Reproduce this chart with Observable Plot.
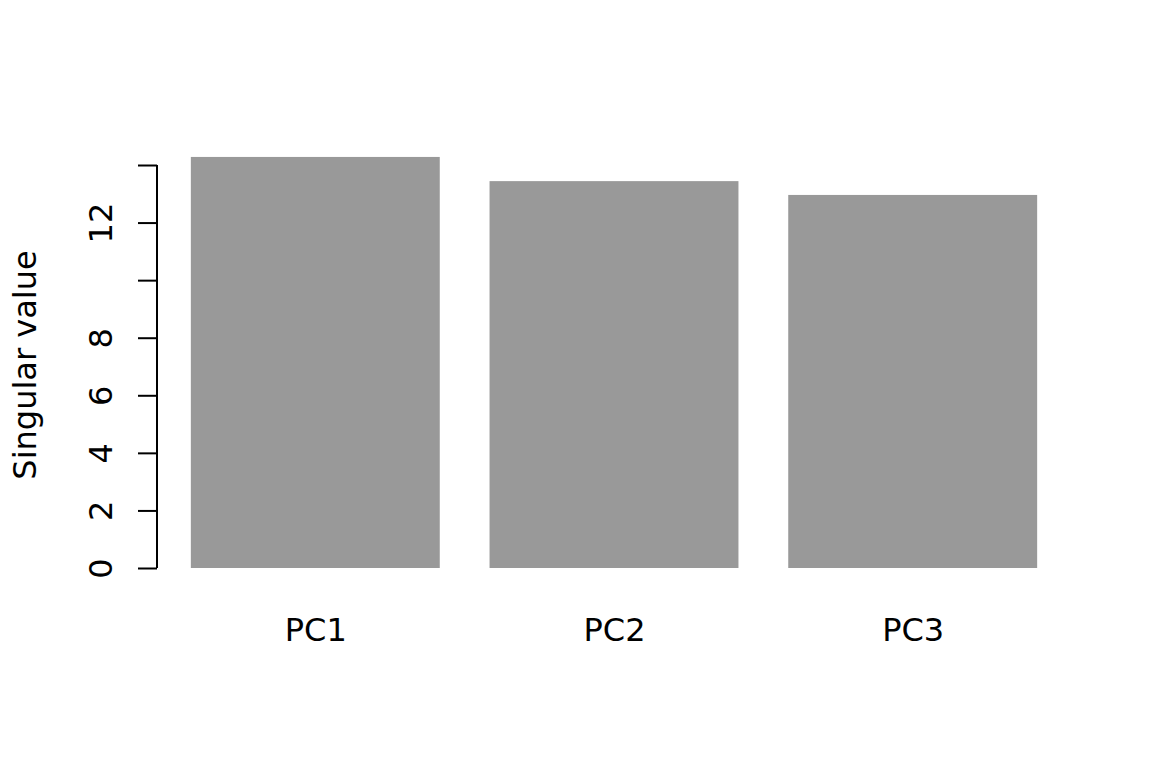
<!DOCTYPE html>
<html>
<head>
<meta charset="utf-8">
<script src="https://cdn.jsdelivr.net/npm/d3@7"></script>
<script src="https://cdn.jsdelivr.net/npm/@observablehq/plot@0.6"></script>
<style>
  html, body { margin: 0; padding: 0; background: #ffffff; }
  #chart svg { display: block; }
</style>
</head>
<body>
<div id="chart"></div>
<script>
// Data
const components = ["PC1", "PC2", "PC3"];
const singularValues = [14.28, 13.44, 12.96];
const yTicks = [0, 2, 4, 6, 8, 10, 12, 14];
const yTickLabels = ["0", "2", "4", "6", "8", "", "12", ""];
const yAxisTitle = "Singular value";

const table = components.map((c, i) => ({component: c, value: singularValues[i]}));
const tickLabelOf = new Map(yTicks.map((t, i) => [t, yTickLabels[i]]));

const font = "DejaVu Sans";

// axis line spanning the tick range, drawn through the library's y scale
const axisLine = (index, scales, values, dims) => {
  const ns = "http://www.w3.org/2000/svg";
  const l = document.createElementNS(ns, "line");
  l.setAttribute("x1", dims.marginLeft);
  l.setAttribute("x2", dims.marginLeft);
  l.setAttribute("y1", scales.y(yTicks[0]));
  l.setAttribute("y2", scales.y(yTicks[yTicks.length - 1]));
  l.setAttribute("stroke", "#000");
  l.setAttribute("stroke-width", 2);
  return l;
};

const chart = Plot.plot({
  width: 1152,
  height: 768,
  marginLeft: 157,
  marginRight: 81,
  marginTop: 157,
  marginBottom: 196,
  style: {fontFamily: font, background: "#ffffff", color: "#000"},
  x: {domain: components, paddingInner: 1 / 6, paddingOuter: 0.1133, round: false, label: null},
  y: {domain: [-0.139, 14.278], label: null},
  marks: [
    Plot.barY(table, {x: "component", y: "value", fill: "#999999"}),
    Plot.axisY({
      ticks: yTicks,
      tickSize: 19,
      tickPadding: 27,
      tickRotate: -90,
      tickFormat: d => tickLabelOf.get(d),
      fontSize: 32,
      strokeWidth: 2,
      label: null
    }),
    axisLine,
    Plot.axisX({tickSize: 0, tickPadding: 46, fontSize: 32, label: null}),
    Plot.text([yAxisTitle], {
      text: d => d,
      frameAnchor: "left",
      rotate: -90,
      dx: -122,
      lineAnchor: "bottom",
      textAnchor: "middle",
      fontSize: 32
    })
  ]
});

document.getElementById("chart").appendChild(chart);
</script>
</body>
</html>
